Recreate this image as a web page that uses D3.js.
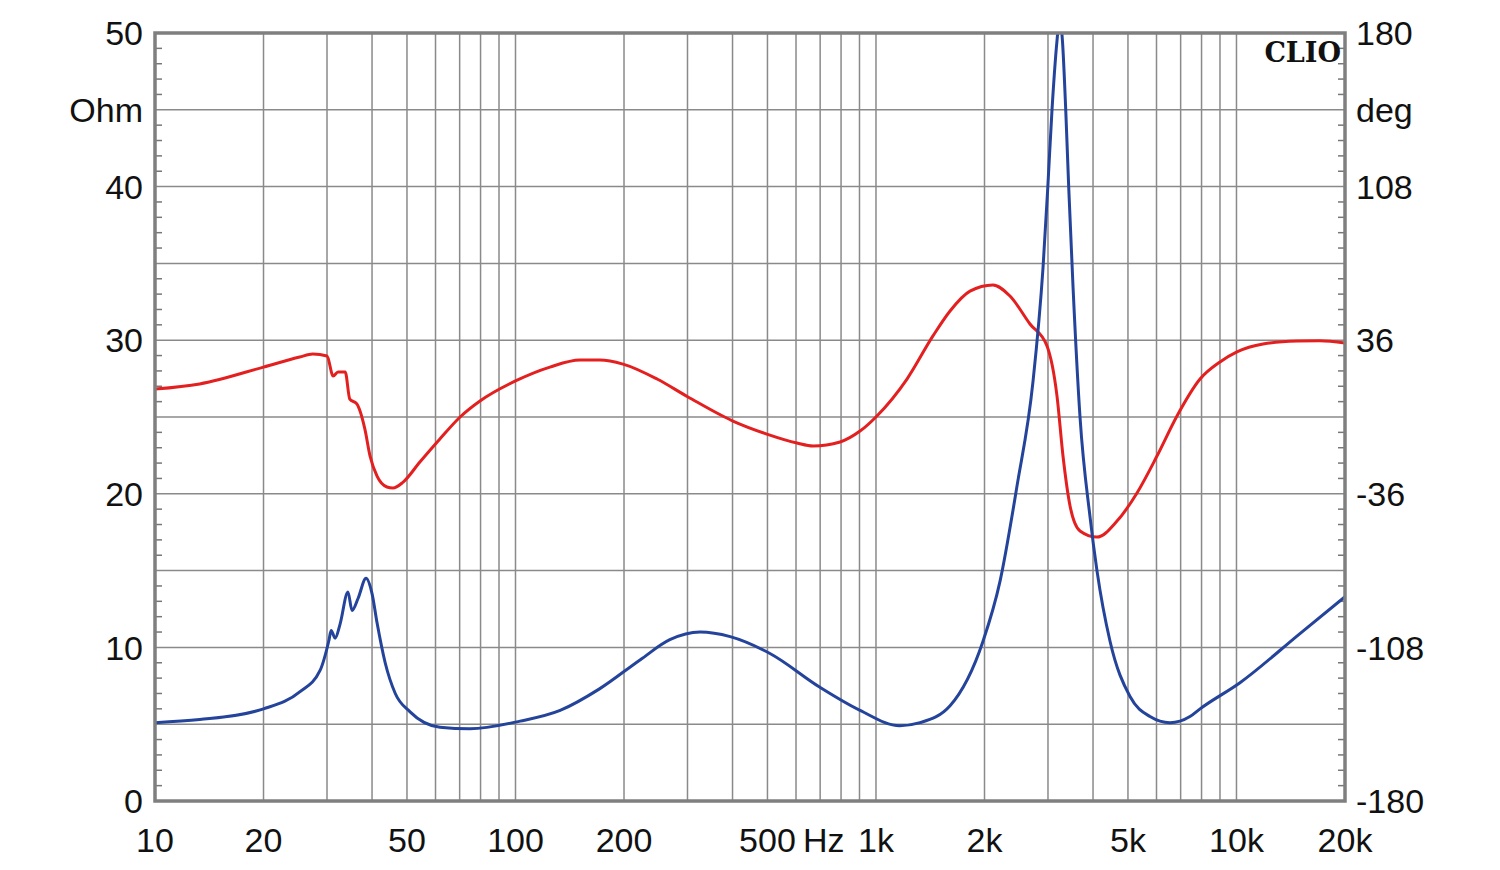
<!DOCTYPE html>
<html>
<head>
<script src="https://d3js.org/d3.v7.min.js"></script>
<style>
  body { margin: 0; background: #fff; }
  text { font-family: "Liberation Sans", Arial, sans-serif; fill: #111; }
</style>
</head>
<body>
<div id="chart"></div>
<script>
// impedance magnitude (Ohm) - blue
var impFreq = [10, 13.3, 20, 25.2, 28.7, 30.4, 30.8, 31.6, 32.6, 34.3, 35.2, 36.6, 38.5, 40, 41.3, 43.5, 46.4, 51, 61.7, 74.8, 103, 133, 171, 222, 268, 325, 394, 508, 699, 903, 1164, 1325, 1605, 1981, 2208, 2461, 2726, 2906, 2997, 3078, 3178, 3230, 3290, 3360, 3424, 3520, 3681, 3924, 4102, 4459, 5066, 5755, 6540, 7430, 7924, 10226, 15000, 20000];
var impOhm  = [5.1, 5.3, 6.0, 7.1, 8.5, 10.5, 11.1, 10.6, 11.5, 13.6, 12.4, 13.2, 14.5, 13.5, 11.6, 9.0, 7.0, 5.8, 4.8, 4.7, 5.2, 5.9, 7.3, 9.2, 10.5, 11.0, 10.7, 9.6, 7.4, 5.9, 4.9, 5.1, 6.2, 10.4, 14.3, 20.5, 27.3, 34.7, 40, 45, 49.5, 51, 49.5, 45, 40, 33.5, 25, 18.5, 15, 10.4, 6.8, 5.5, 5.1, 5.5, 6.0, 7.7, 10.9, 13.3];

// phase (deg) - red
var phFreq = [10, 13.3, 20, 25.2, 27.4, 30.0, 31.2, 32.2, 33.7, 34.7, 36.3, 38.2, 39.5, 41.3, 44.0, 45.7, 48.8, 54.3, 61.7, 70.2, 79.7, 100, 124.6, 151, 171.5, 198.7, 247, 301, 401, 498, 604, 669, 795, 903, 1006, 1219, 1439, 1605, 1823, 2111, 2353, 2674, 2981, 3178, 3302, 3454, 3681, 4102, 4662, 5297, 6018, 6839, 7924, 9000, 10030, 11850, 14720, 17040, 20000];
var phDeg  = [13.1, 15.5, 23.4, 28.1, 29.5, 28.6, 19.2, 21.1, 21.1, 8.4, 6.1, -5.6, -18.3, -27.7, -32.8, -33.3, -30.5, -21.1, -10.3, 0, 7.5, 16.9, 23.4, 26.7, 26.7, 24.8, 17.8, 9.4, -1.9, -8.0, -12.2, -13.6, -11.7, -6.6, 0.5, 17.8, 38, 49.7, 59, 61.9, 56.7, 43.6, 33.3, 9.8, -18.3, -41.7, -53.4, -56.3, -48.8, -35.6, -18.3, 0.5, 17.8, 25.8, 30.5, 34.2, 35.6, 35.8, 34.7];

var xTickVals = [10, 20, 50, 100, 200, 500, 1000, 2000, 5000, 10000, 20000];
var xTickText = ["10", "20", "50", "100", "200", "500", "1k", "2k", "5k", "10k", "20k"];
var leftTicks = [0, 10, 20, 30, 40, 50];
var rightTicks = [-180, -108, -36, 36, 108, 180];

var W = 1500, H = 870;
var L = 155, R = 1345, T = 33, B = 801;

var svg = d3.select("#chart").append("svg")
  .attr("width", W).attr("height", H);

var x = d3.scaleLog().domain([10, 20000]).range([L, R]);
var yL = d3.scaleLinear().domain([0, 50]).range([B, T]);
var yR = d3.scaleLinear().domain([-180, 180]).range([B, T]);

var gridColor = "#8a8a8a";

// vertical grid: every 1-2-...-9 per decade
var vgrid = [];
[10, 100, 1000, 10000].forEach(function (d) {
  for (var k = 1; k <= 9; k++) {
    var v = d * k;
    if (v > 10 && v < 20000) vgrid.push(v);
  }
});
svg.append("g").selectAll("line").data(vgrid).join("line")
  .attr("x1", function (d) { return x(d); }).attr("x2", function (d) { return x(d); })
  .attr("y1", T).attr("y2", B)
  .attr("stroke", gridColor).attr("stroke-width", 1.5);

// horizontal grid every 5 Ohm
svg.append("g").selectAll("line").data(d3.range(5, 50, 5)).join("line")
  .attr("x1", L).attr("x2", R)
  .attr("y1", function (d) { return yL(d); }).attr("y2", function (d) { return yL(d); })
  .attr("stroke", gridColor).attr("stroke-width", 1.5);

// minor ticks every 1 Ohm, both sides
var minor = d3.range(1, 50).filter(function (d) { return d % 5 !== 0; });
svg.append("g").selectAll("line").data(minor).join("line")
  .attr("x1", L).attr("x2", L + 7)
  .attr("y1", function (d) { return yL(d); }).attr("y2", function (d) { return yL(d); })
  .attr("stroke", "#777").attr("stroke-width", 1.5);
svg.append("g").selectAll("line").data(minor).join("line")
  .attr("x1", R - 7).attr("x2", R)
  .attr("y1", function (d) { return yL(d); }).attr("y2", function (d) { return yL(d); })
  .attr("stroke", "#777").attr("stroke-width", 1.5);

// curves
svg.append("clipPath").attr("id", "clip").append("rect")
  .attr("x", L).attr("y", T).attr("width", R - L).attr("height", B - T);

var impData = impFreq.map(function (f, i) { return [f, impOhm[i]]; });
var phData = phFreq.map(function (f, i) { return [f, phDeg[i]]; });

svg.append("path").datum(phData)
  .attr("clip-path", "url(#clip)")
  .attr("fill", "none").attr("stroke", "#e3201f").attr("stroke-width", 3)
  .attr("d", d3.line()
    .x(function (d) { return x(d[0]); })
    .y(function (d) { return yR(d[1]); })
    .curve(d3.curveMonotoneX));

svg.append("path").datum(impData)
  .attr("clip-path", "url(#clip)")
  .attr("fill", "none").attr("stroke", "#24439a").attr("stroke-width", 3)
  .attr("d", d3.line()
    .x(function (d) { return x(d[0]); })
    .y(function (d) { return yL(d[1]); })
    .curve(d3.curveMonotoneX));

// frame
svg.append("rect")
  .attr("x", L).attr("y", T).attr("width", R - L).attr("height", B - T)
  .attr("fill", "none").attr("stroke", "#7f7f7f").attr("stroke-width", 3.5);

// left labels
svg.append("g").selectAll("text").data(leftTicks).join("text")
  .attr("x", 143).attr("y", function (d) { return yL(d); })
  .attr("dy", "0.36em").attr("text-anchor", "end")
  .style("font-size", "34px")
  .text(function (d) { return d; });
svg.append("text").attr("x", 143).attr("y", yL(45)).attr("dy", "0.36em")
  .attr("text-anchor", "end").style("font-size", "34px").text("Ohm");

// right labels
svg.append("g").selectAll("text").data(rightTicks).join("text")
  .attr("x", 1356).attr("y", function (d) { return yR(d); })
  .attr("dy", "0.36em").attr("text-anchor", "start")
  .style("font-size", "34px")
  .text(function (d) { return d; });
svg.append("text").attr("x", 1356).attr("y", yL(45)).attr("dy", "0.36em")
  .attr("text-anchor", "start").style("font-size", "34px").text("deg");

// bottom labels
svg.append("g").selectAll("text").data(xTickVals).join("text")
  .attr("x", function (d) { return x(d); }).attr("y", 840)
  .attr("dy", "0.36em").attr("text-anchor", "middle")
  .style("font-size", "34px")
  .text(function (d, i) { return xTickText[i]; });
svg.append("text").attr("x", (x(500) + x(1000)) / 2 + 2).attr("y", 840)
  .attr("dy", "0.36em").attr("text-anchor", "middle")
  .style("font-size", "34px").text("Hz");

// CLIO mark
svg.append("text").attr("x", R - 4).attr("y", 62)
  .attr("text-anchor", "end")
  .style("font-family", "'DejaVu Serif', 'Liberation Serif', serif")
  .style("font-weight", "bold").style("font-size", "27px")
  .text("CLIO");
</script>
</body>
</html>
